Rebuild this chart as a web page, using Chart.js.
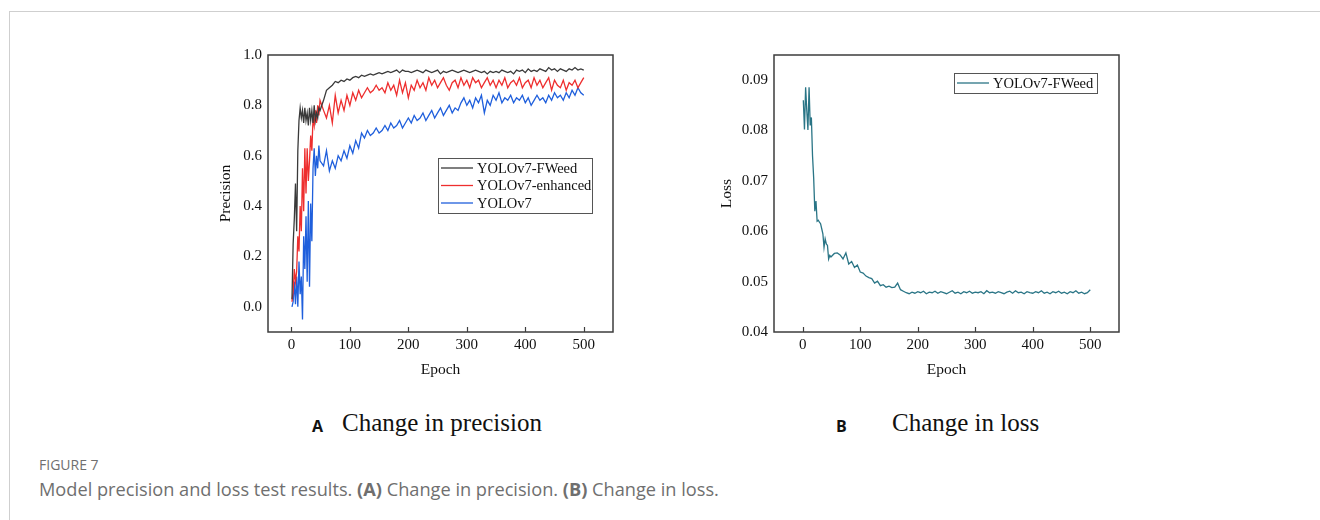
<!DOCTYPE html>
<html>
<head>
<meta charset="utf-8">
<script src="https://cdn.jsdelivr.net/npm/chart.js@4.4.1/dist/chart.umd.min.js"></script>
<style>
  body { margin: 0; background: #fff; }
  .page { position: relative; width: 1320px; height: 520px; overflow: hidden; }
  .frame { position: absolute; left: 9px; top: 11px; width: 1400px; height: 600px;
           border-top: 1.5px solid #cfcfcf; border-left: 1.5px solid #cfcfcf; }
  canvas { position: absolute; }
  .sub { position: absolute; font-family: "Liberation Serif", serif; font-size: 25px; color: #111; white-space: nowrap; }
  .sub b { position: absolute; font-family: "Open Sans", sans-serif; font-size: 16px; font-weight: 700; }
  .fig { position: absolute; left: 39px; font-family: "Open Sans", sans-serif; color: #6f6f6f; white-space: nowrap; }
</style>
</head>
<body>
<div class="page">
  <div class="frame"></div>
  <canvas id="precisionChart" width="430" height="350" style="left:200px; top:40px;"></canvas>
  <canvas id="lossChart" width="430" height="350" style="left:700px; top:40px;"></canvas>

  <div class="sub" style="left:342px; top:409px;"><b style="left:-30px; top:6px;">A</b>Change in precision</div>
  <div class="sub" style="left:892px; top:409px;"><b style="left:-56px; top:6px;">B</b>Change in loss</div>

  <div class="fig" style="top:455px; font-size:14px;">FIGURE 7</div>
  <div class="fig" style="top:477px; font-size:18.2px;">Model precision and loss test results. <b>(A)</b> Change in precision. <b>(B)</b> Change in loss.</div>
</div>

<script>
// Epochs sampled from the curves
const epochs = [
  1, 3, 5, 7, 9, 11, 13, 15, 17, 19, 21, 23, 25, 27, 29, 31, 33, 35, 37, 39, 41, 43, 45, 47, 49,
  55, 60, 65, 70, 75, 80, 85, 90, 95, 100,
  105, 110, 115, 120, 125, 130, 135, 140, 145, 150,
  155, 160, 165, 170, 175, 180, 185, 190, 195, 200,
  205, 210, 215, 220, 225, 230, 235, 240, 245, 250,
  255, 260, 265, 270, 275, 280, 285, 290, 295, 300,
  305, 310, 315, 320, 325, 330, 335, 340, 345, 350,
  355, 360, 365, 370, 375, 380, 385, 390, 395, 400,
  405, 410, 415, 420, 425, 430, 435, 440, 445, 450,
  455, 460, 465, 470, 475, 480, 485, 490, 495, 500
];

const precisionFWeed = [
  0.03, 0.25, 0.35, 0.49, 0.30, 0.62, 0.74, 0.79, 0.75, 0.78, 0.73, 0.79, 0.74, 0.77, 0.72, 0.79, 0.74, 0.78, 0.73, 0.80, 0.74, 0.77, 0.75, 0.79, 0.78,
  0.82, 0.86, 0.87, 0.88, 0.895, 0.89, 0.90, 0.895, 0.905, 0.90,
  0.91, 0.915, 0.91, 0.92, 0.915, 0.92, 0.925, 0.92, 0.925, 0.93,
  0.925, 0.93, 0.935, 0.93, 0.935, 0.94, 0.93, 0.94, 0.935, 0.935,
  0.93, 0.935, 0.94, 0.935, 0.93, 0.94, 0.935, 0.93, 0.935, 0.94,
  0.925, 0.935, 0.93, 0.935, 0.94, 0.935, 0.93, 0.935, 0.94, 0.935,
  0.93, 0.935, 0.94, 0.935, 0.93, 0.935, 0.925, 0.935, 0.93, 0.935,
  0.93, 0.94, 0.935, 0.93, 0.935, 0.925, 0.94, 0.935, 0.94, 0.93,
  0.945, 0.935, 0.94, 0.935, 0.945, 0.94, 0.935, 0.95, 0.94, 0.945,
  0.935, 0.945, 0.94, 0.935, 0.945, 0.94, 0.95, 0.94, 0.945, 0.94
];

const precisionEnhanced = [
  0.02, 0.06, 0.15, 0.10, 0.14, 0.28, 0.22, 0.40, 0.30, 0.55, 0.38, 0.63, 0.45, 0.63, 0.50, 0.58, 0.68, 0.62, 0.75, 0.72, 0.78, 0.73, 0.80, 0.76, 0.82,
  0.78, 0.75, 0.80, 0.73, 0.84, 0.77, 0.82, 0.78, 0.84, 0.80,
  0.85, 0.82, 0.86, 0.83, 0.85, 0.87, 0.85, 0.86, 0.88, 0.86,
  0.87, 0.85, 0.89, 0.86, 0.88, 0.84, 0.90, 0.85, 0.89, 0.83,
  0.88, 0.86, 0.90, 0.87, 0.89, 0.86, 0.91, 0.88, 0.90, 0.87,
  0.89, 0.91, 0.88, 0.86, 0.89, 0.90, 0.87, 0.91, 0.88, 0.90,
  0.87, 0.91, 0.89, 0.90, 0.87, 0.89, 0.91, 0.88, 0.90, 0.87,
  0.90, 0.88, 0.91, 0.87, 0.89, 0.90, 0.88, 0.91, 0.87, 0.89,
  0.90, 0.87, 0.91, 0.88, 0.90, 0.87, 0.89, 0.91, 0.86, 0.90,
  0.88, 0.87, 0.90, 0.86, 0.89, 0.88, 0.90, 0.87, 0.89, 0.91
];

const precisionBase = [
  0.00, 0.02, 0.10, 0.01, 0.12, 0.00, 0.18, 0.05, 0.12, -0.05, 0.28, 0.15, 0.36, 0.10, 0.42, 0.08, 0.41, 0.26, 0.55, 0.63, 0.52, 0.60, 0.55, 0.64, 0.58,
  0.56, 0.62, 0.54, 0.58, 0.55, 0.60, 0.58, 0.62, 0.59, 0.64,
  0.61, 0.66, 0.63, 0.69, 0.67, 0.70, 0.68, 0.69, 0.71, 0.69,
  0.70, 0.72, 0.70, 0.73, 0.71, 0.72, 0.74, 0.71, 0.73, 0.75,
  0.73, 0.76, 0.74, 0.75, 0.77, 0.74, 0.76, 0.78, 0.75, 0.77,
  0.79, 0.76, 0.78, 0.80, 0.77, 0.79, 0.78, 0.81, 0.83, 0.80,
  0.82, 0.79, 0.83, 0.81, 0.84, 0.77, 0.82, 0.80, 0.84, 0.82,
  0.85, 0.81, 0.83, 0.82, 0.84, 0.81, 0.83, 0.82, 0.84, 0.81,
  0.83, 0.80, 0.82, 0.84, 0.82, 0.83, 0.81, 0.84, 0.82, 0.85,
  0.83, 0.84, 0.82, 0.85, 0.83, 0.86, 0.84, 0.87, 0.85, 0.84
];

const lossFWeed = [
  0.0860, 0.0802, 0.0886, 0.0840, 0.0801, 0.0886, 0.0810, 0.0826, 0.0750, 0.0706, 0.0640, 0.0660, 0.0620, 0.0622, 0.0618, 0.0615, 0.0605, 0.0595, 0.0568, 0.0585, 0.0575, 0.0572, 0.0545, 0.0552, 0.0549,
  0.0556, 0.0557, 0.0553, 0.0545, 0.0557, 0.0535, 0.0540, 0.0528, 0.0533, 0.0519,
  0.0517, 0.0511, 0.0508, 0.0506, 0.0497, 0.0501, 0.0492, 0.0494, 0.0489, 0.0491,
  0.0488, 0.0489, 0.0497, 0.0484, 0.0481, 0.0478, 0.0476, 0.0479, 0.0477, 0.0480,
  0.0478, 0.0481, 0.0476, 0.0479, 0.0478, 0.0481, 0.0477, 0.0480, 0.0478, 0.0476,
  0.0479, 0.0482, 0.0477, 0.0479, 0.0476, 0.0480, 0.0478, 0.0481, 0.0477, 0.0479,
  0.0478, 0.0480, 0.0476, 0.0482, 0.0478, 0.0479, 0.0477, 0.0480, 0.0478, 0.0476,
  0.0479, 0.0481, 0.0477, 0.0482, 0.0478, 0.0479, 0.0476, 0.0480, 0.0478, 0.0477,
  0.0480, 0.0478, 0.0482, 0.0477, 0.0479, 0.0476, 0.0480, 0.0478, 0.0481, 0.0477,
  0.0479, 0.0476, 0.0480, 0.0478, 0.0482, 0.0477, 0.0479, 0.0476, 0.0478, 0.0484
];

// Tick labels
const epochTicks = [0, 100, 200, 300, 400, 500];
const precisionTicks = [0.0, 0.2, 0.4, 0.6, 0.8, 1.0];
const lossTicks = [0.04, 0.05, 0.06, 0.07, 0.08, 0.09];

const serif = '"Liberation Serif", "Times New Roman", serif';
const axisColor = '#3d3d3d';

function points(series) {
    return epochs.map((e, i) => ({ x: e, y: series[i] }));
}

function lineSet(label, series, color) {
    return {
        label: label,
        data: points(series),
        borderColor: color,
        borderWidth: 1.3,
        pointRadius: 0,
        tension: 0,
        fill: false
    };
}

// Plot frame, inward x ticks and the boxed legend
const framePlugin = {
    id: 'frame',
    afterDraw(chart, args, opts) {
        const { ctx, chartArea: a, scales } = chart;
        ctx.save();
        ctx.strokeStyle = axisColor;
        ctx.lineWidth = 1.5;
        ctx.strokeRect(a.left, a.top, a.right - a.left, a.bottom - a.top);

        ctx.lineWidth = 1.2;
        scales.x.ticks.forEach(t => {
            const px = Math.round(scales.x.getPixelForValue(t.value)) + 0.5;
            ctx.beginPath();
            ctx.moveTo(px, a.bottom);
            ctx.lineTo(px, a.bottom - 5);
            ctx.stroke();
        });

        const lg = opts.legend;
        ctx.strokeStyle = '#555';
        ctx.lineWidth = 1;
        ctx.strokeRect(lg.x + 0.5, lg.y + 0.5, lg.w, lg.h);
        ctx.font = '14.5px ' + serif;
        ctx.textBaseline = 'middle';
        ctx.fillStyle = '#111';
        chart.data.datasets.forEach((ds, i) => {
            const cy = lg.y + lg.first + i * lg.rowH;
            ctx.strokeStyle = ds.borderColor;
            ctx.lineWidth = 1.3;
            ctx.beginPath();
            ctx.moveTo(lg.x + 3, cy);
            ctx.lineTo(lg.x + 3 + lg.lineLen, cy);
            ctx.stroke();
            ctx.fillText(ds.label, lg.x + lg.lineLen + 7, cy + 1);
        });
        ctx.restore();
    }
};

function makeOptions(cfg) {
    return {
        responsive: false,
        animation: false,
        devicePixelRatio: 1,
        layout: { padding: { top: 13, right: cfg.padRight, bottom: 0, left: 0 } },
        plugins: {
            legend: { display: false },
            tooltip: { enabled: false },
            frame: { legend: cfg.legend }
        },
        scales: {
            x: {
                type: 'linear',
                min: cfg.xMin,
                max: 550,
                grid: { display: false, drawTicks: false },
                border: { display: false },
                afterFit: s => { s.height = 58; },
                afterBuildTicks: s => { s.ticks = epochTicks.map(v => ({ value: v })); },
                ticks: {
                    padding: 4,
                    color: '#111',
                    font: { family: serif, size: 15 },
                    callback: v => String(v)
                },
                title: {
                    display: true,
                    text: 'Epoch',
                    color: '#111',
                    font: { family: serif, size: 15.5 },
                    padding: { top: 0, bottom: 11 }
                }
            },
            y: {
                min: cfg.yMin,
                max: cfg.yMax,
                grid: { display: false, drawTicks: false },
                border: { display: false },
                afterFit: s => { s.width = cfg.yWidth; },
                afterBuildTicks: s => { s.ticks = cfg.yTicks.map(v => ({ value: v })); },
                ticks: {
                    padding: 6,
                    color: '#111',
                    font: { family: serif, size: 15 },
                    callback: v => v.toFixed(cfg.decimals)
                },
                title: {
                    display: true,
                    text: cfg.yTitle,
                    color: '#111',
                    font: { family: serif, size: 15.5 },
                    padding: { top: cfg.yTitlePad, bottom: 0 }
                }
            }
        }
    };
}

new Chart(document.getElementById('precisionChart'), {
    type: 'line',
    data: {
        datasets: [
            lineSet('YOLOv7-FWeed', precisionFWeed, '#3a3a3a'),
            lineSet('YOLOv7-enhanced', precisionEnhanced, '#ee2e2e'),
            lineSet('YOLOv7', precisionBase, '#1f5fdc')
        ]
    },
    options: makeOptions({
        padRight: 17, xMin: -40, yMin: -0.1, yMax: 1.0, yWidth: 68,
        yTicks: precisionTicks, decimals: 1, yTitle: 'Precision', yTitlePad: 17,
        legend: { x: 238, y: 118, w: 154, h: 55, first: 10, rowH: 17.5, lineLen: 32 }
    }),
    plugins: [framePlugin]
});

new Chart(document.getElementById('lossChart'), {
    type: 'line',
    data: {
        datasets: [
            lineSet('YOLOv7-FWeed', lossFWeed, '#2a7586')
        ]
    },
    options: makeOptions({
        padRight: 11, xMin: -50, yMin: 0.04, yMax: 0.095, yWidth: 74,
        yTicks: lossTicks, decimals: 2, yTitle: 'Loss', yTitlePad: 18,
        legend: { x: 254, y: 33, w: 143, h: 20, first: 10, rowH: 17.5, lineLen: 32 }
    }),
    plugins: [framePlugin]
});
</script>
</body>
</html>
